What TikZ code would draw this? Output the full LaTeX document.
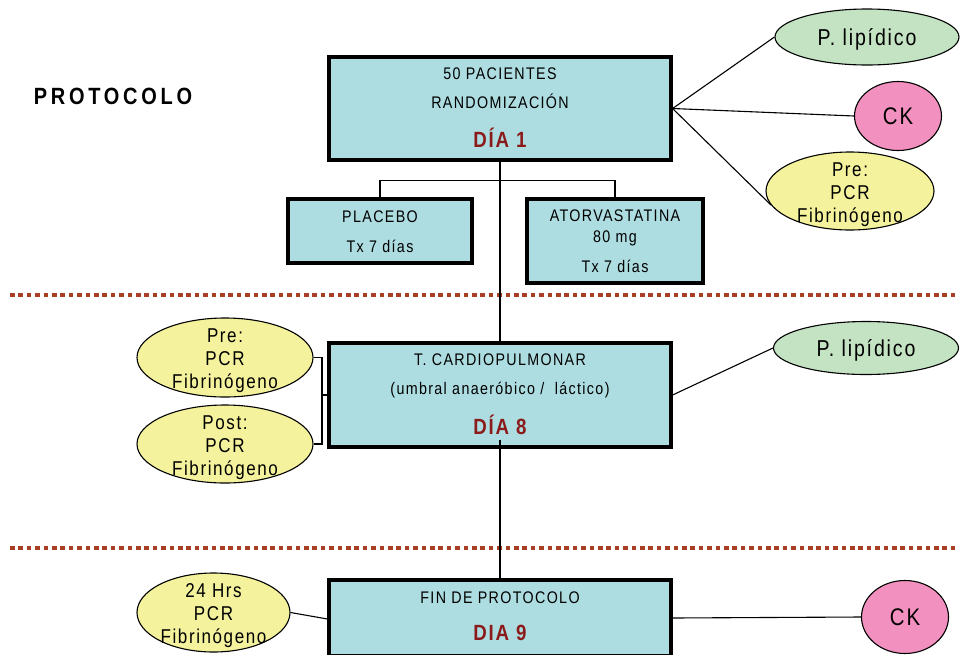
\documentclass[tikz,border=0pt]{standalone}
\usepackage{fontspec}
\setmainfont{Liberation Sans}[FakeStretch=0.85,LetterSpace=8]
\usetikzlibrary{shapes.geometric}
\definecolor{boxc}{HTML}{ADDDE1}
\definecolor{greenc}{HTML}{C4E3C2}
\definecolor{pinkc}{HTML}{F291BF}
\definecolor{yellowc}{HTML}{F4F29C}
\definecolor{dred}{HTML}{8B1A1A}
\definecolor{dotc}{HTML}{A83E24}
\begin{document}
\begin{tikzpicture}[x=1pt,y=-1pt,
  box/.style={draw=black, line width=3.2pt, fill=boxc, inner sep=0pt},
  ell/.style={draw=black, line width=1.1pt, ellipse, inner sep=0pt},
  txt/.style={inner sep=0pt, font=\fontsize{16.8}{19}\selectfont, text height=12pt, text depth=0pt},
  rtxt/.style={inner sep=0pt, font=\fontsize{22}{25}\selectfont\bfseries, text=dred, text height=15.5pt, text depth=0pt},
  etxt/.style={inner sep=0pt, align=center, font=\fontsize{20}{23}\selectfont},
  conn/.style={draw=black, line width=1.1pt},
  sep/.style={draw=dotc, line width=4pt, dash pattern=on 4.5pt off 3.9pt}
]
\useasboundingbox (0,0) rectangle (961,654);
\clip (0,0) rectangle (961,654);

% separators
\coordinate (s1a) at (10,295); \coordinate (s1b) at (958,295);
\coordinate (s2a) at (10,548); \coordinate (s2b) at (958,548);
\draw[sep] (s1a) -- (s1b);
\draw[sep] (s2a) -- (s2b);

% title
\node[inner sep=0pt, font=\fontsize{23.5}{27}\selectfont\bfseries\addfontfeature{LetterSpace=16}, text height=17pt, text depth=0pt] (title) at (113,96) {PROTOCOLO};

% boxes
\node[box, minimum width=342pt, minimum height=103pt] (b1) at (500,108.5) {};
\node[box, minimum width=184pt, minimum height=64pt] (plac) at (380,231) {};
\node[box, minimum width=176pt, minimum height=84pt] (ator) at (615,241) {};
\node[box, minimum width=342pt, minimum height=104pt] (b2) at (500,395) {};
\node[box, minimum width=342pt, minimum height=76pt] (b3) at (500,618) {};

% box texts
\node[txt] (b1t1) at (500,73) {50 PACIENTES};
\node[txt] (b1t2) at (500,102) {RANDOMIZACIÓN};
\node[rtxt] (b1t3) at (500,140) {DÍA 1};
\node[txt] (pt1) at (380,216) {PLACEBO};
\node[txt] (pt2) at (380,246) {Tx 7 días};
\node[txt] (at1) at (615,215) {ATORVASTATINA};
\node[txt] (at2) at (615,236) {80 mg};
\node[txt] (at3) at (615,266) {Tx 7 días};
\node[txt] (b2t1) at (500,359) {T. CARDIOPULMONAR};
\node[txt] (b2t2) at (500,388) {(umbral anaeróbico /\ \ láctico)};
\node[rtxt] (b2t3) at (500,427) {DÍA 8};
\node[txt] (b3t1) at (500,597) {FIN DE PROTOCOLO};
\node[rtxt] (b3t2) at (500,633) {DIA 9};

% ellipses
\node[ell, fill=greenc, minimum width=184pt, minimum height=56pt] (pl1) at (867,37) {};
\node[ell, fill=pinkc, minimum width=87pt, minimum height=69pt] (ck1) at (898,116) {};
\node[ell, fill=yellowc, minimum width=168pt, minimum height=78pt] (pre1) at (850,191) {};
\node[ell, fill=greenc, minimum width=185pt, minimum height=53pt] (pl2) at (866,348) {};
\node[ell, fill=yellowc, minimum width=176pt, minimum height=79pt] (pre2) at (225,357.5) {};
\node[ell, fill=yellowc, minimum width=176pt, minimum height=78pt] (post2) at (225,444) {};
\node[ell, fill=yellowc, minimum width=153pt, minimum height=79pt] (h24) at (213.5,612.5) {};
\node[ell, fill=pinkc, minimum width=87pt, minimum height=73pt] (ck3) at (905,617) {};

% ellipse texts
\node[inner sep=0pt, font=\fontsize{23}{26}\selectfont, text height=16.5pt, text depth=0pt] (pl1t) at (pl1) {P. lipídico};
\node[inner sep=0pt, font=\fontsize{24}{28}\selectfont, text height=17pt, text depth=0pt] (ck1t) at (ck1) {CK};
\node[etxt] (pre1t) at (850,195) {Pre:\\PCR\\Fibrinógeno};
\node[inner sep=0pt, font=\fontsize{23}{26}\selectfont, text height=16.5pt, text depth=0pt] (pl2t) at (pl2) {P. lipídico};
\node[etxt] (pre2t) at (225,361) {Pre:\\PCR\\Fibrinógeno};
\node[etxt] (post2t) at (225,448) {Post:\\PCR\\Fibrinógeno};
\node[etxt] (h24t) at (213.5,616) {24 Hrs\\PCR\\Fibrinógeno};
\node[inner sep=0pt, font=\fontsize{24}{28}\selectfont, text height=17pt, text depth=0pt] (ck3t) at (ck3) {CK};

% connectors
\draw[conn] (b1.south) -- (b2.north);
\coordinate (b2low) at ([yshift=9pt]b2.south);
\draw[conn] (b2low) -- (b3.north);
\draw[conn] (plac.north) -- ++(0,-17) -| (ator.north);
\draw[conn] (b1.east) -- (pl1.west);
\draw[conn] (b1.east) -- (ck1.west);
\draw[conn] (b1.east) -- (pre1.190);
\draw[conn] (b2.east) -- (pl2.west);
\coordinate (brk) at (322,395);
\draw[conn] (pre2.east) -| (brk) |- (post2.east);
\draw[conn] (brk) -- (b2.west);
\draw[conn] (h24.east) -- ([yshift=-1pt]b3.west);
\draw[conn] (b3.east) -- (ck3.west);
\end{tikzpicture}
\end{document}
